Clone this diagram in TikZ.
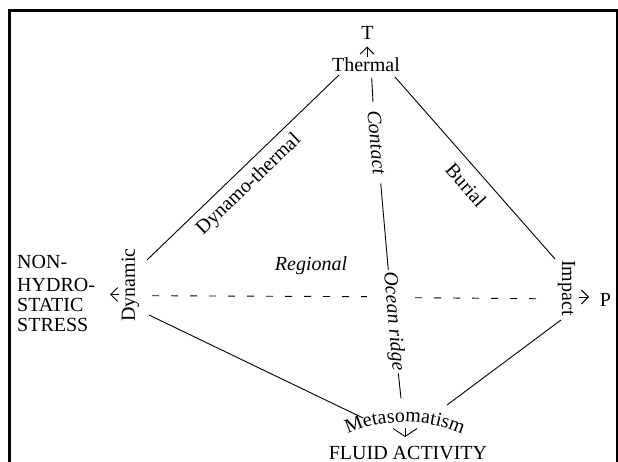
\documentclass[tikz,border=0pt]{standalone}
\usepackage{fontspec}
\setmainfont{Liberation Serif}
\usetikzlibrary{arrows.meta,decorations.text}
\begin{document}
\begin{tikzpicture}[x=1pt,y=1pt,
  lbl/.style={font=\fontsize{20}{20}\selectfont, inner sep=0pt},
  ilbl/.style={font=\fontsize{20}{20}\selectfont\itshape, inner sep=0pt},
  edge/.style={line width=0.9pt},
  dashline/.style={line width=0.9pt, dash pattern=on 7pt off 12pt},
  tip/.style={line width=0.9pt, -{Straight Barb[length=7pt,width=14pt]}}
]
\useasboundingbox (0,0) rectangle (618,461);
% frame
\draw[line width=3pt] (9.5,-5) -- (9.5,450.5) -- (617,450.5) -- (617,-5);

% labels
\node[lbl, anchor=base] (T) at (367.5,421) {T};
\node[lbl, anchor=base] (Thermal) at (366,389) {Thermal};
\node[lbl, rotate=90] (Dynamic) at (130.5,176) {Dynamic};
\node[lbl, rotate=-90] (Impact) at (566.5,173) {Impact};
\node[lbl, anchor=west, align=left] (NHS) at (17,167.5) {NON-\\[3pt]HYDRO-\\STATIC\\STRESS};
\node[lbl, anchor=base] (P) at (605.5,155) {P};
\node[lbl, anchor=base] (FLUID) at (408,1.8) {FLUID ACTIVITY};
\node[ilbl, anchor=base] (Regional) at (311,191) {Regional};
\node[lbl, rotate=43.9] (DT) at (249,276) {Dynamo-thermal};
\node[lbl, rotate=-48.5] (Burial) at (466,276) {Burial};
\node[ilbl, rotate=-84.9] (Contact) at (376.8,318.5) {Contact};
\node[ilbl, rotate=-84.9] (Ocean) at (393.3,139.5) {Ocean ridge};

% curved Metasomatism
\path[decorate, decoration={text along path, text={|\fontsize{20}{20}\selectfont|Metasomatism}, text align=center}]
  (335,20.2) arc[start angle=120, end angle=60, radius=140];

% vertices
\coordinate (th-l) at (339,386);
\coordinate (dy-u) at (147,201);
\coordinate (th-r) at (395,384);
\coordinate (im-u) at (555,202);
\coordinate (th-c) at (371.7,383);
\coordinate (co-t) at (373,359);
\coordinate (co-b) at (380.7,277.7);
\coordinate (oc-t) at (388.3,191);
\coordinate (oc-b) at (398.3,87.7);
\coordinate (me-c) at (401,62.7);
\coordinate (dy-l) at (149,146);
\coordinate (me-l) at (363,43);
\coordinate (im-l) at (561,141);
\coordinate (me-r) at (447,56);
\coordinate (dy-r) at (152,165.3);
\coordinate (oc-l) at (367,164.3);
\coordinate (oc-r) at (415,163.3);
\coordinate (im-r) at (545,162.2);

\draw[edge] (th-l) -- (dy-u);
\draw[edge] (th-r) -- (im-u);
\draw[edge] (th-c) -- (co-t);
\draw[edge] (co-b) -- (oc-t);
\draw[edge] (oc-b) -- (me-c);
\draw[edge] (dy-l) -- (me-l);
\draw[edge] (im-l) -- (me-r);
\draw[dashline] (dy-r) -- (oc-l);
\draw[dashline] (oc-r) -- (im-r);

% arrows
\coordinate (a-t0) at (367,404);
\coordinate (a-t1) at (367,414.5);
\coordinate (a-l0) at (119,166.5);
\coordinate (a-l1) at (110,166.5);
\coordinate (a-p0) at (579,164);
\coordinate (a-p1) at (589,164);
\coordinate (a-f0) at (405,33);
\coordinate (a-f1) at (405,24);
\draw[tip] (a-t0) -- (a-t1);
\draw[tip] (a-l0) -- (a-l1);
\draw[tip] (a-p0) -- (a-p1);
\draw[line width=0.9pt, -{Straight Barb[length=8pt,width=24pt]}] (a-f0) -- (a-f1);
\end{tikzpicture}
\end{document}
